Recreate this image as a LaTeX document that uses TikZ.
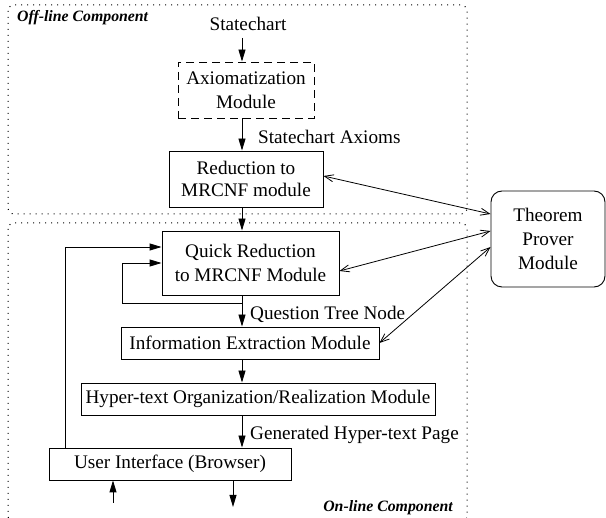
\documentclass[tikz,border=0pt]{standalone}
\usepackage{fontspec}
\setmainfont{Liberation Serif}
\usetikzlibrary{arrows.meta}
\begin{document}
\begin{tikzpicture}[x=1pt,y=-1pt,
  every node/.style={font=\fontsize{19.2}{24}\selectfont},
  box/.style={draw, line width=0.9pt, inner sep=0pt, align=center},
  dashbox/.style={box, dash pattern=on 8pt off 5pt},
  txt/.style={inner sep=0pt},
  grouplbl/.style={inner sep=0pt, font=\fontsize{15.8}{18}\selectfont\bfseries\itshape},
  group/.style={line width=1pt, dash pattern=on 1pt off 5pt, rounded corners=6pt},
  flow/.style={line width=0.9pt, -{Triangle[length=12pt,width=7pt]}},
  plain/.style={line width=0.9pt},
  dbl/.style={line width=0.8pt, {Straight Barb[length=9pt,width=7pt]}-{Straight Barb[length=9pt,width=7pt]}}]
\useasboundingbox (0,0) rectangle (606,518);

% group regions
\draw[group] (8,5) rectangle (467,214);
\draw[group] (8,223) rectangle (467,522);
\node[grouplbl, anchor=base west] (offlbl) at (17,22) {Off-line Component};
\node[grouplbl, anchor=base east] (onlbl) at (453,512) {On-line Component};

% modules
\node[txt, anchor=base] (sc) at (248,31) {Statechart};
\node[dashbox, minimum width=136, minimum height=56] (axiom) at (246,90) {Axiomatization\\Module};
\node[box, minimum width=154, minimum height=56] (red) at (246,179) {Reduction to\\[-2pt]MRCNF module};
\node[box, minimum width=177, minimum height=64] (quick) at (250.5,263) {Quick Reduction\\to MRCNF Module};
\node[box, minimum width=258, minimum height=32] (info) at (250,343) {Information Extraction Module};
\node[box, minimum width=354, minimum height=32] (hyper) at (258,399) {Hyper-text Organization/Realization Module};
\node[box, minimum width=242, minimum height=32] (ui) at (170,464) {User Interface (Browser)};
\node[box, rounded corners=11pt, minimum width=114, minimum height=96] (thm) at (548,239) {Theorem\\Prover\\Module};

% labels
\node[txt, anchor=base west] (lax) at (258,144) {Statechart Axioms};
\node[txt, anchor=base west] (lqt) at (250,320) {Question Tree Node};
\node[txt, anchor=base west] (lgp) at (250,440) {Generated Hyper-text Page};

% helper coordinates
\coordinate (spine) at (242,0);
\coordinate (scin) at (242,38);
\coordinate (lp) at (242,303);
\coordinate (lpx) at (122,263);
\coordinate (fb) at (65,247);
\coordinate (uin) at (113,503);
\coordinate (uout) at (233,507);

% main flow
\draw[flow] (scin) -- (scin |- axiom.north);
\draw[flow] (axiom.south -| spine) -- (red.north -| spine);
\draw[flow] (red.south -| spine) -- (quick.north -| spine);
\draw[flow] (quick.south -| spine) -- (info.north -| spine);
\draw[flow] (info.south -| spine) -- (hyper.north -| spine);
\draw[flow] (hyper.south -| spine) -- (ui.north -| spine);

% feedback loops
\draw[plain] (lp) -| (lpx);
\draw[flow] (lpx) -- (lpx -| quick.west);
\draw[plain] (ui.north -| fb) -- (fb);
\draw[flow] (fb) -- (fb -| quick.west);

% user in/out
\draw[flow] (uin) -- (uin |- ui.south);
\draw[flow] (uout |- ui.south) -- (uout);

% theorem prover links
\draw[dbl] ([yshift=3pt]red.east) -- ([yshift=25pt]thm.west);
\draw[dbl] ([yshift=-8pt]quick.east) -- ([yshift=8pt]thm.west);
\draw[dbl] (info.east) -- ([yshift=-8pt]thm.west);
\end{tikzpicture}
\end{document}
